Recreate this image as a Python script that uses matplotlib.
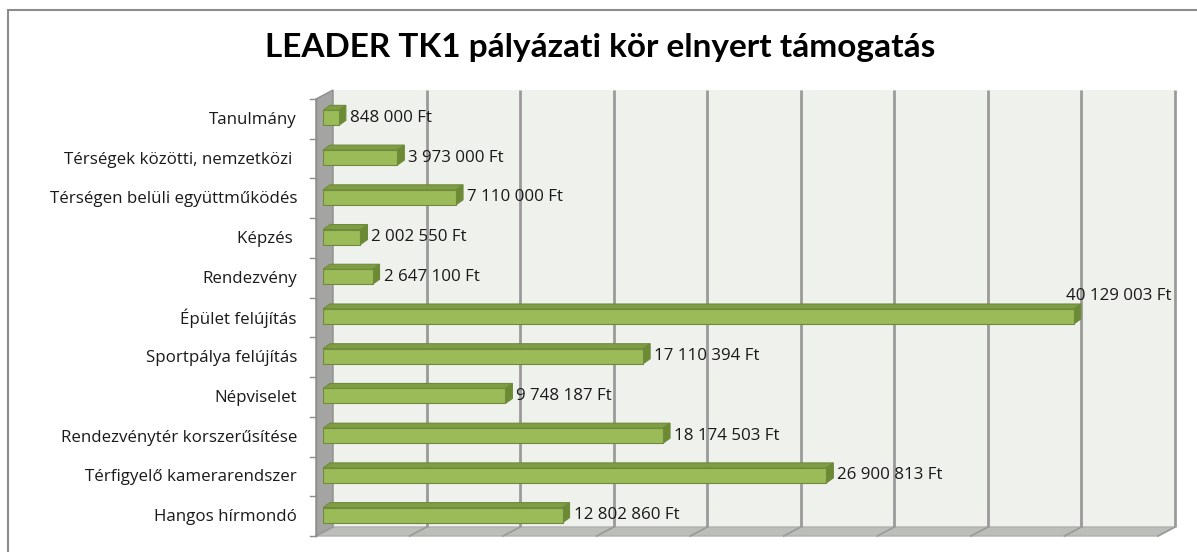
import matplotlib
matplotlib.use("Agg")
import matplotlib.pyplot as plt
from matplotlib.patches import Polygon, Rectangle

# data (top to bottom as in the chart)
categories = ["Tanulmány", "Térségek közötti, nemzetközi ", "Térségen belüli együttműködés",
              "Képzés ", "Rendezvény", "Épület felújítás", "Sportpálya felújítás",
              "Népviselet", "Rendezvénytér korszerűsítése", "Térfigyelő kamerarendszer",
              "Hangos hírmondó"]
values = [848000, 3973000, 7110000, 2002550, 2647100, 40129003, 17110394,
          9748187, 18174503, 26900813, 12802860]
title = "LEADER TK1 pályázati kör elnyert támogatás"
xmax = 45e6
xstep = 5e6

plt.rcParams['font.family'] = ['Open Sans', 'DejaVu Sans']

W, H = 1197, 552
fig = plt.figure(figsize=(W / 100, H / 100), dpi=100)
fig.patch.set_facecolor("white")
# chart border (runs off the bottom and right edge like the original)
fig.add_artist(Rectangle((8 / W, -10 / H), 1200 / W, 552 / H,
                         transform=fig.transFigure, fill=False, edgecolor="#8c8c8c", lw=1.5))

# axes = back wall of the 3d plot
left, right, top, bottom = 333, 1175, 90, 527
ax = fig.add_axes([left / W, 1 - bottom / H, (right - left) / W, (bottom - top) / H])
n = len(categories)
ax.set_xlim(0, xmax)
ax.set_ylim(n - 0.5, -0.5)
ax.set_facecolor("#eff1ec")
ax.set_xticks([])
ax.set_yticks([])
for s in ax.spines.values():
    s.set_visible(False)

# pixel -> data units
ux = xmax / (right - left)
uy = n / (bottom - top)
dep_x, dep_y = 17 * ux, 9 * uy  # wall depth

# left wall and floor
ax.add_patch(Polygon([(0, -0.5), (0, n - 0.5), (-dep_x, n - 0.5 + dep_y), (-dep_x, -0.5 + dep_y)],
                     closed=True, facecolor="#a4a5a2", edgecolor="#8e8e8e", lw=1, clip_on=False, zorder=1))
ax.add_patch(Polygon([(0, n - 0.5), (xmax, n - 0.5), (xmax - dep_x, n - 0.5 + dep_y), (-dep_x, n - 0.5 + dep_y)],
                     closed=True, facecolor="#bcbeb9", edgecolor="#b0b0b0", lw=1, clip_on=False, zorder=1))

# gridlines on back wall and floor
gx = 0
while gx <= xmax + 1:
    if gx > 0:
        ax.plot([gx, gx], [-0.5, n - 0.5], color="#9a9a9a", lw=2, zorder=2, clip_on=False,
                solid_capstyle="butt")
    ax.plot([gx, gx - dep_x], [n - 0.5, n - 0.5 + dep_y], color="#9a9a9a", lw=1.2, zorder=2,
            clip_on=False)
    gx += xstep

# tick marks on the front left edge
for k in range(n + 1):
    ax.plot([-dep_x - 6 * ux, -dep_x], [k - 0.5 + dep_y, k - 0.5 + dep_y], color="#8c8c8c", lw=1,
            clip_on=False, zorder=2)
ax.plot([-dep_x, -dep_x], [-0.5 + dep_y, n - 0.5 + dep_y], color="#8c8c8c", lw=1,
        clip_on=False, zorder=2)

# bars with 3d look
fx, fy = -10 * ux, 8 * uy      # front face offset from back wall
bx, by = 7 * ux, -5 * uy       # bar depth
hh = 7.5 * uy                  # half height of the front face
front_c, top_c, side_c, edge_c = "#9bbb59", "#7f9d43", "#6c8a33", "#6f8a3c"
for i, v in enumerate(values):
    x0, x1 = fx, v + fx
    yt, yb = i + fy - hh, i + fy + hh
    ax.add_patch(Polygon([(x0, yt), (x1, yt), (x1 + bx, yt + by), (x0 + bx, yt + by)], closed=True,
                         facecolor=top_c, edgecolor=edge_c, lw=0.8, zorder=3, clip_on=False))
    ax.add_patch(Polygon([(x1, yt), (x1 + bx, yt + by), (x1 + bx, yb + by), (x1, yb)], closed=True,
                         facecolor=side_c, edgecolor=edge_c, lw=0.8, zorder=3, clip_on=False))
    ax.add_patch(Rectangle((x0, yt), v, yb - yt, facecolor=front_c, edgecolor=edge_c, lw=0.8,
                           zorder=4, clip_on=False))
    lbl = format(v, ",d").replace(",", " ") + " Ft"
    if v == max(values):
        ax.text(v - 18 * ux, i + fy - 21 * uy, lbl, ha="left", va="center", fontsize=12.2,
                color="#1a1a1a", zorder=5, clip_on=False)
    else:
        ax.text(v + 1 * ux, i + fy, lbl, ha="left", va="center", fontsize=12.2,
                color="#1a1a1a", zorder=5, clip_on=False)
    ax.text(-36 * ux, i + 10 * uy, categories[i], ha="right", va="center", fontsize=12.2,
            color="#1a1a1a", clip_on=False)

fig.text(0.501, 1 - 48 / H, title, ha="center", va="center", fontsize=24, fontweight="bold",
         family=['Lato', 'DejaVu Sans'], color="black")

fig.savefig("out.png", dpi=100)
